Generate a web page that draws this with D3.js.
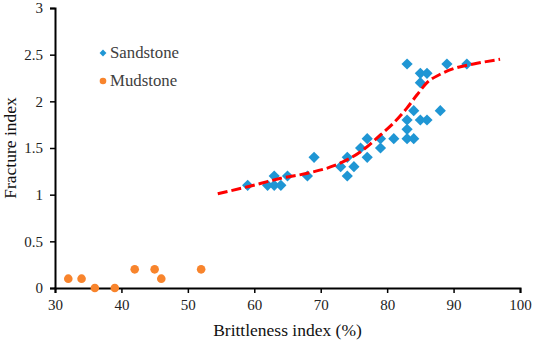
<!DOCTYPE html>
<html lang="en">
<head>
    <meta charset="UTF-8">
    <title>Fracture vs Brittleness</title>
    <script src="https://d3js.org/d3.v7.min.js"></script>
    <style>
        body { margin: 0; background: #fff; }
        svg text { font-family: "Liberation Serif", "DejaVu Serif", serif !important; }
    </style>
</head>
<body>
    <div id="chart"></div>
    <script>
        // sandstone samples (brittleness %, fracture index)
        const sandX = [59, 62, 63, 63, 64, 65, 68, 69, 73, 74, 74, 75, 76, 77, 77, 79, 79,
            81, 83, 83, 83, 84, 84, 85, 86, 88, 83, 85, 86, 85, 89, 92];
        const sandY = [1.1, 1.1, 1.2, 1.1, 1.1, 1.2, 1.2, 1.4, 1.3, 1.4, 1.2, 1.3, 1.5, 1.6, 1.4, 1.6, 1.5,
            1.6, 1.6, 1.7, 1.8, 1.6, 1.9, 1.8, 1.8, 1.9, 2.4, 2.3, 2.3, 2.2, 2.4, 2.4];

        // mudstone samples
        const mudX = [32, 34, 36, 39, 42, 45, 46, 52];
        const mudY = [0.1, 0.1, 0, 0, 0.2, 0.2, 0.1, 0.2];

        // fitted trend
        const trendX = [54.5, 59, 64, 68, 72, 76, 79, 81, 83, 84.5, 86, 88, 90, 93, 97];
        const trendY = [1.01, 1.085, 1.175, 1.23, 1.31, 1.46, 1.64, 1.77, 1.93, 2.07, 2.2, 2.29, 2.35, 2.40, 2.45];

        const xTicks = [30, 40, 50, 60, 70, 80, 90, 100];
        const yTicks = [0, 0.5, 1, 1.5, 2, 2.5, 3];

        const width = 533, height = 342;
        const margin = { top: 8, right: 13, bottom: 54, left: 55 };

        const svg = d3.select("#chart").append("svg")
            .attr("width", width)
            .attr("height", height);

        const x = d3.scaleLinear().domain([30, 100]).range([margin.left, width - margin.right]);
        const y = d3.scaleLinear().domain([0, 3]).range([height - margin.bottom, margin.top]);

        // axes
        const xAxis = svg.append("g")
            .attr("transform", `translate(0,${y(0)})`)
            .call(d3.axisBottom(x).tickValues(xTicks).tickSize(5).tickPadding(6));
        const yAxis = svg.append("g")
            .attr("transform", `translate(${x(30)},0)`)
            .call(d3.axisLeft(y).tickValues(yTicks).tickSize(5).tickPadding(7).tickFormat(d3.format("")));

        [xAxis, yAxis].forEach(g => {
            g.attr("font-size", 15);
            g.select(".domain").attr("stroke", "#000").attr("stroke-width", 2);
            g.selectAll(".tick line").attr("stroke", "#000").attr("stroke-width", 1.5);
            g.selectAll(".tick text").attr("fill", "#222");
        });

        // axis titles
        svg.append("text")
            .attr("x", (x(30) + x(100)) / 2)
            .attr("y", 336)
            .attr("text-anchor", "middle")
            .attr("font-size", 17.5)
            .attr("fill", "#111")
            .text("Brittleness index (%)");

        svg.append("text")
            .attr("transform", `translate(16,${(y(0) + y(3)) / 2}) rotate(-90)`)
            .attr("text-anchor", "middle")
            .attr("font-size", 17.5)
            .attr("fill", "#111")
            .text("Fracture index");

        // points
        const diamond = d3.symbol().type(d3.symbolDiamond2).size(80);

        svg.append("g").selectAll("path")
            .data(d3.range(sandX.length))
            .join("path")
            .attr("d", diamond)
            .attr("transform", i => `translate(${x(sandX[i])},${y(sandY[i])})`)
            .attr("fill", "#1f96d4");

        svg.append("g").selectAll("circle")
            .data(d3.range(mudX.length))
            .join("circle")
            .attr("cx", i => x(mudX[i]))
            .attr("cy", i => y(mudY[i]))
            .attr("r", 4.3)
            .attr("fill", "#f8842c");

        // trend line
        const line = d3.line()
            .x(i => x(trendX[i]))
            .y(i => y(trendY[i]))
            .curve(d3.curveMonotoneX);

        svg.append("path")
            .datum(d3.range(trendX.length))
            .attr("d", line)
            .attr("fill", "none")
            .attr("stroke", "#ff0000")
            .attr("stroke-width", 3)
            .attr("stroke-dasharray", "10,4");

        // legend
        const legend = svg.append("g").attr("transform", "translate(103,0)");
        legend.append("path")
            .attr("d", d3.symbol().type(d3.symbolDiamond2).size(30))
            .attr("transform", "translate(0,53)")
            .attr("fill", "#1f96d4");
        legend.append("circle")
            .attr("cx", 0).attr("cy", 81).attr("r", 3.3)
            .attr("fill", "#f8842c");
        legend.append("text").attr("x", 7).attr("y", 58)
            .attr("font-size", 16.8).attr("fill", "#404040").text("Sandstone");
        legend.append("text").attr("x", 7).attr("y", 86)
            .attr("font-size", 16.8).attr("fill", "#404040").text("Mudstone");
    </script>
</body>
</html>
